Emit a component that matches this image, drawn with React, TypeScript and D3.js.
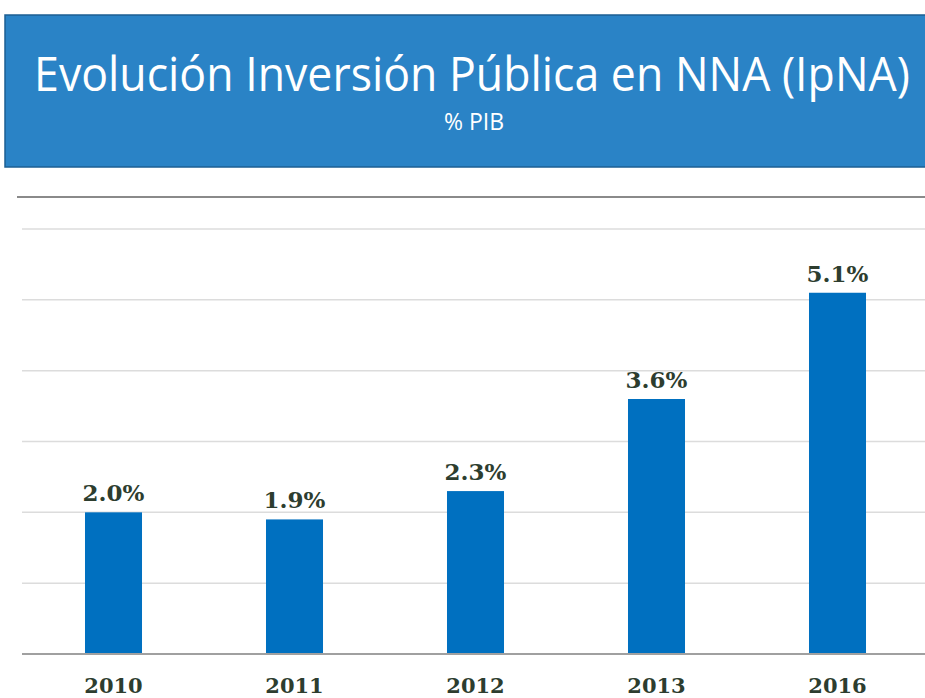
import { useEffect, useRef } from 'react';
import * as d3 from 'd3';

const years = ['2010', '2011', '2012', '2013', '2016'];
const values = [2.0, 1.9, 2.3, 3.6, 5.1];
const gridTicks = [1, 2, 3, 4, 5, 6];

const title = 'Evolución Inversión Pública en NNA (IpNA)';
const subtitle = '% PIB';

export default function App() {
  const svgRef = useRef<SVGSVGElement>(null);

  useEffect(() => {
    if (!svgRef.current) return;
    const width = 925;
    const height = 698;

    const svg = d3.select(svgRef.current);
    svg.selectAll('*').remove();
    svg.attr('width', width).attr('height', height).attr('viewBox', `0 0 ${width} ${height}`);

    svg.append('rect').attr('width', width).attr('height', height).attr('fill', '#ffffff');

    // header banner
    svg.append('rect')
      .attr('x', 5).attr('y', 15)
      .attr('width', 930).attr('height', 152)
      .attr('fill', '#2a83c6')
      .attr('stroke', '#1d5f93')
      .attr('stroke-width', 1.5);

    // title squeezed horizontally to mimic the narrow Calibri look
    const titleG = svg.append('g');
    const titleText = titleG.append('text')
      .attr('x', 0).attr('y', 0)
      .attr('text-anchor', 'middle')
      .attr('font-family', '"Open Sans", sans-serif')
      .attr('font-size', 48)
      .attr('fill', '#ffffff')
      .text(title);
    const natural = (titleText.node() as SVGTextElement).getComputedTextLength() || 878;
    const sx = Math.min(1, 876 / natural);
    titleG.attr('transform', `translate(472,91) scale(${sx},1)`);

    svg.append('text')
      .attr('x', 474).attr('y', 130)
      .attr('text-anchor', 'middle')
      .attr('font-family', '"Open Sans", sans-serif')
      .attr('font-size', 23)
      .attr('fill', '#ffffff')
      .text(subtitle);

    const x = d3.scaleBand<string>()
      .domain(years)
      .range([23, 928])
      .paddingInner(0.685)
      .paddingOuter(0.3425);

    const y = d3.scaleLinear().domain([0, 6]).range([654, 229]);

    // top frame line
    svg.append('line')
      .attr('x1', 17).attr('x2', width)
      .attr('y1', y(6) - 32).attr('y2', y(6) - 32)
      .attr('stroke', '#8a8a8a').attr('stroke-width', 2);

    svg.append('g')
      .selectAll('line')
      .data(gridTicks)
      .join('line')
      .attr('x1', 22).attr('x2', width)
      .attr('y1', d => y(d)).attr('y2', d => y(d))
      .attr('stroke', '#dcdcdc').attr('stroke-width', 1.5);

    svg.append('g')
      .selectAll('rect')
      .data(values)
      .join('rect')
      .attr('x', (d, i) => x(years[i])!)
      .attr('y', d => y(d))
      .attr('width', x.bandwidth())
      .attr('height', d => y(0) - y(d))
      .attr('fill', '#0070c0');

    svg.append('line')
      .attr('x1', 22).attr('x2', width)
      .attr('y1', y(0)).attr('y2', y(0))
      .attr('stroke', '#a0a0a0').attr('stroke-width', 2);

    svg.append('g')
      .selectAll('text')
      .data(values)
      .join('text')
      .attr('x', (d, i) => x(years[i])! + x.bandwidth() / 2)
      .attr('y', d => y(d) - 11)
      .attr('text-anchor', 'middle')
      .attr('font-family', '"DejaVu Serif", serif')
      .attr('font-weight', 'bold')
      .attr('font-size', 23)
      .attr('fill', '#2d3d2f')
      .text(d => `${d.toFixed(1)}%`);

    svg.append('g')
      .selectAll('text')
      .data(years)
      .join('text')
      .attr('x', d => x(d)! + x.bandwidth() / 2)
      .attr('y', 693)
      .attr('text-anchor', 'middle')
      .attr('font-family', '"DejaVu Serif", serif')
      .attr('font-weight', 'bold')
      .attr('font-size', 21)
      .attr('fill', '#2d3d2f')
      .text(d => d);
  }, []);

  return (
    <svg ref={svgRef} style={{ position: 'absolute', left: 0, top: 0, display: 'block' }} />
  );
}
